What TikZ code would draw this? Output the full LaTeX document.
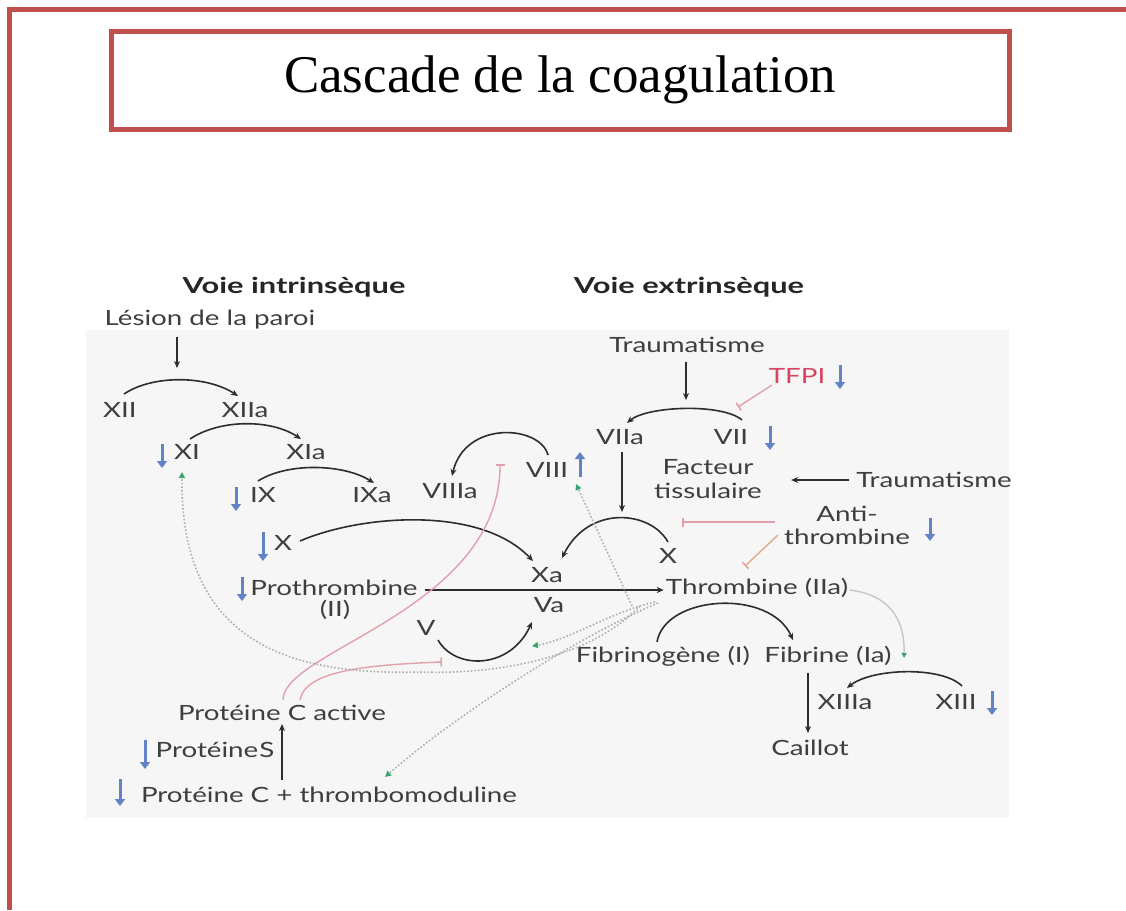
\documentclass[tikz,border=0pt]{standalone}
\usepackage{fontspec}
\setmainfont{Liberation Serif}
\newfontfamily\gill[FakeStretch=1.32]{Lato}
\newfontfamily\gillh[FakeStretch=1.4]{Lato}
\usetikzlibrary{arrows.meta}
\definecolor{framered}{RGB}{192,80,77}
\definecolor{txt}{RGB}{62,62,62}
\definecolor{arr}{RGB}{45,45,45}
\definecolor{bluea}{RGB}{98,132,198}
\definecolor{pinkl}{RGB}{226,160,170}
\definecolor{orangel}{RGB}{226,170,140}
\definecolor{tfpired}{RGB}{214,70,100}
\definecolor{greent}{RGB}{55,165,110}
\definecolor{dotg}{RGB}{175,175,175}
\definecolor{panel}{RGB}{246,246,246}
\tikzset{
  lbl/.style={font=\gill\fontsize{21}{24}\selectfont, text=txt, inner sep=1pt, anchor=center},
  head/.style={font=\gillh\bfseries\fontsize{22}{26}\selectfont, text=black!85, inner sep=1pt},
  act/.style={draw=arr, line width=1.6pt, -{Stealth[length=7pt,width=6pt]}},
  plain/.style={draw=arr, line width=1.6pt},
  inh/.style={draw=pinkl, line width=1.4pt, -{Bar[width=9pt,line width=1.6pt]}},
  inho/.style={draw=orangel, line width=1.4pt, -{Bar[width=9pt,line width=1.6pt]}},
  dotl/.style={draw=dotg, line width=1.6pt, dotted, -{Triangle[color=greent,length=6pt,width=6pt]}},
  thinl/.style={draw=black!22, line width=1.4pt, -{Triangle[color=greent,length=5pt,width=5pt]}},
  bluearrow/.style={draw=bluea, line width=3pt, -{Triangle[length=7pt,width=10pt]}},
}
\begin{document}
\begin{tikzpicture}[x=1pt,y=-1pt]
\useasboundingbox (0,0) rectangle (1126,910);
\fill[white] (0,0) rectangle (1126,910);
% outer frame
\draw[framered, line width=5pt] (1126,9) -- (9,9) -- (9,910);
% title
\draw[framered, line width=5pt] (111,31) rectangle (1009,129);
\node[font=\fontsize{53}{60}\selectfont, anchor=base, inner sep=0] (title) at (560,92) {Cascade de la coagulation};
% panel
\fill[panel] (86,330) rectangle (1009,818);

% headings
\node[head] (vi) at (294,287) {Voie intrinsèque};
\node[head] (ve) at (689,287) {Voie extrinsèque};

% labels
\node[lbl] (lesion) at (210,320) {Lésion de la paroi};
\node[lbl] (XII) at (120,410) {XII};
\node[lbl] (XIIa) at (245,410) {XIIa};
\node[lbl] (XI) at (187,452) {XI};
\node[lbl] (XIa) at (306,452) {XIa};
\node[lbl] (IX) at (263,495) {IX};
\node[lbl] (IXa) at (372,495) {IXa};
\node[lbl] (VIIIa) at (450,491) {VIIIa};
\node[lbl] (VIII) at (547,470) {VIII};
\node[lbl] (trauA) at (687,345) {Traumatisme};
\node[lbl, text=tfpired] (TFPI) at (797,376) {TFPI};
\node[lbl] (VIIa) at (620,437) {VIIa};
\node[lbl] (VII) at (731,437) {VII};
\node[lbl, align=center] (facteur) at (708,479) {Facteur\\[0pt]tissulaire};
\node[lbl] (trauB) at (934,480) {Traumatisme};
\node[lbl, align=center] (anti) at (847,525) {Anti-\\[-1pt]thrombine};
\node[lbl] (Xr) at (668,556) {X};
\node[lbl] (Xl) at (283,543) {X};
\node[lbl] (Xa) at (547,575) {Xa};
\node[lbl] (Va) at (549,605) {Va};
\node[lbl] (proth) at (334,588) {Prothrombine};
\node[lbl] (protII) at (335,610) {(II)};
\node[lbl] (thromb) at (757,588) {Thrombine (IIa)};
\node[lbl] (V) at (426,628) {V};
\node[lbl] (fibrinogene) at (663,656) {Fibrinogène (I)};
\node[lbl] (fibrine) at (828,656) {Fibrine (Ia)};
\node[lbl] (XIIIa) at (845,702) {XIIIa};
\node[lbl] (XIII) at (956,702) {XIII};
\node[lbl] (caillot) at (810,748) {Caillot};
\node[lbl] (pca) at (282,713) {Protéine C active};
\node[lbl] (ps) at (215,750) {Protéine\kern1pt S};
\node[lbl] (pct) at (329,795) {Protéine C + thrombomoduline};

% blue arrows
\draw[bluearrow] (162,444) -- (162,468);
\draw[bluearrow] (236,487) -- (236,511);
\draw[bluearrow] (263,532) -- (263,561);
\draw[bluearrow] (242,577) -- (242,601);
\draw[bluearrow] (145,740) -- (145,769);
\draw[bluearrow] (120,779) -- (120,806);
\draw[bluearrow] (580,477) -- (580,452);
\draw[bluearrow] (840,365) -- (840,389);
\draw[bluearrow] (770,426) -- (770,450);
\draw[bluearrow] (930,518) -- (930,541);
\draw[bluearrow] (992,691) -- (992,715);

% intrinsic cascade
\draw[act] ([shift={(-33,17)}]lesion.center) -- ++(0,31);
\draw[act] ([shift={(4,-16)}]XII.center) .. controls +(30,-20) and +(-30,-20) .. ([shift={(-7,-14)}]XIIa.center);
\draw[act] ([shift={(3,-13)}]XI.center) .. controls +(30,-20) and +(-30,-20) .. ([shift={(-5,-13)}]XIa.center);
\draw[act] ([shift={(-5,-14)}]IX.center) .. controls +(30,-19) and +(-30,-19) .. ([shift={(2,-12)}]IXa.center);
\draw[act] ([shift={(1,-15)}]VIII.center) .. controls +(-8,-30) and +(13,-56) .. ([shift={(2,-15)}]VIIIa.center);

% extrinsic
\draw[act] ([shift={(-1,17)}]trauA.center) -- ++(0,38);
\draw[act] ([shift={(11,-17)}]VII.center) .. controls +(-20,-17) and +(20,-17) .. ([shift={(7,-14)}]VIIa.center);
\coordinate (tfpiT) at (738,407);
\draw[inh] ([shift={(-25,9)}]TFPI.center) -- (tfpiT);
\draw[act] ([shift={(2,15)}]VIIa.center) -- ++(0,60);
\draw[act] ([shift={(-6,0)}]trauB.west) -- ++(-58,0);
\draw[inh] ([shift={(-72,-3)}]anti.center) -- ++(-93,0);
\draw[inho] ([shift={(-69,10)}]anti.center) -- ++(-33,31);

% X activation
\draw[act] ([shift={(0,-14)}]Xr.center) .. controls +(-18,-32) and +(26,-53) .. ([shift={(15,-17)}]Xa.center);
\draw[act] ([shift={(17,-2)}]Xl.center) .. controls +(60,-26) and +(-53,-56) .. ([shift={(-14,-14)}]Xa.center);
\draw[act] ([shift={(6,2)}]proth.east) -- ([shift={(-1,2)}]thromb.west);
\draw[act] ([shift={(12,12)}]V.center) .. controls +(17,30) and +(-22,48) .. ([shift={(-17,17)}]Va.center);

% fibrin
\draw[act] ([shift={(-6,-14)}]fibrinogene.center) .. controls +(8,-47) and +(-23,-52) .. ([shift={(-35,-16)}]fibrine.center);
\draw[act] ([shift={(-20,17)}]fibrine.center) -- ([shift={(-2,-15)}]caillot.center);
\draw[act] ([shift={(6,-16)}]XIII.center) .. controls +(-20,-20) and +(25,-20) .. ([shift={(2,-14)}]XIIIa.center);

% protein C
\draw[act] ([shift={(-47,-15)}]pct.center) -- ([shift={(0,11)}]pca.center);
\coordinate (inhVIII) at (500,464);
\coordinate (inhV) at (442,662);
\draw[inh] ([shift={(1,-13)}]pca.center) .. controls (283,650) and (500,610) .. (inhVIII);
\draw[inh] ([shift={(18,-13)}]pca.center) .. controls (305,672) and (360,665) .. (inhV);

% thrombin feedback (dotted)
\draw[dotl] ([shift={(-117,18)}]thromb.center) .. controls (580,668) and (470,674) .. (420,672) .. controls (300,675) and (180,650) .. ([shift={(-5,20)}]XI.center);
\draw[dotl] ([shift={(-125,18)}]thromb.center) -- ([shift={(29,14)}]VIII.center);
\draw[dotl] ([shift={(-102,14)}]thromb.center) .. controls (610,612) and (570,640) .. ([shift={(-17,41)}]Va.center);
\draw[dotl] ([shift={(-99,15)}]thromb.center) .. controls (570,640) and (450,720) .. ([shift={(56,-18)}]pct.center);
\draw[thinl] ([shift={(93,2)}]thromb.center) .. controls (890,595) and (905,620) .. ([shift={(76,2)}]fibrine.center);
\end{tikzpicture}
\end{document}
